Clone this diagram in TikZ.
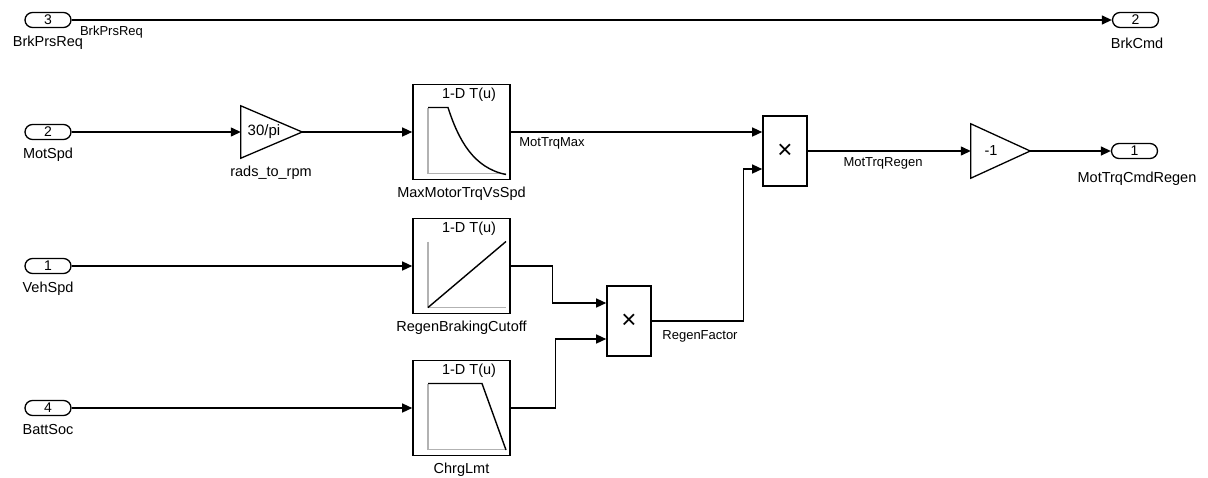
\documentclass[tikz,border=0pt]{standalone}
\usepackage{fontspec}
\setmainfont{Liberation Sans}
\usetikzlibrary{arrows.meta}
\begin{document}
\begin{tikzpicture}[x=1pt,y=-1pt,
 port/.style={draw,line width=1.3pt,rounded corners=7.5pt,minimum width=46pt,minimum height=15pt,inner sep=0pt,font=\fontsize{14}{14}\selectfont},
 blk/.style={draw,line width=1.6pt,inner sep=0pt},
 ghost/.style={inner sep=0pt},
 lbl/.style={font=\fontsize{14.5}{15}\selectfont,inner sep=0pt},
 slbl/.style={font=\fontsize{13}{14}\selectfont,inner sep=0pt},
 sig/.style={line width=1.3pt,-{Triangle[length=10pt,width=9pt]}},
 ax/.style={draw=black!30,line width=1.4pt},
 crv/.style={line width=1.4pt},
 mult/.style={blk,minimum width=44pt,minimum height=70pt,font=\fontsize{26}{26}\selectfont}]
\useasboundingbox (0,0) rectangle (1208,477);

% ports
\node[port] (in3) at (48,20) {3};
\node[port] (out2) at (1135.5,20) {2};
\node[port] (in2) at (48,132) {2};
\node[port] (in1) at (48,266) {1};
\node[port] (in4) at (48,408) {4};
\node[port] (out1) at (1134.5,151) {1};

\node[lbl] (lin3) at (48,43) {BrkPrsReq};
\node[lbl] (lout2) at (1137,43) {BrkCmd};
\node[lbl] (lin2) at (48,155) {MotSpd};
\node[lbl] (lin1) at (48,289) {VehSpd};
\node[lbl] (lin4) at (48,430) {BattSoc};
\node[lbl] (lout1) at (1137,179) {MotTrqCmdRegen};

% gains
\node[ghost,minimum width=61pt,minimum height=52pt] (g1) at (271.5,132) {};
\draw[line width=1.3pt] (g1.north west) -- (g1.east) -- (g1.south west) -- cycle;
\node[lbl,font=\fontsize{15}{15}\selectfont] (g1t) at (264,132) {30/pi};
\node[lbl] (lg1) at (271,173) {rads\_to\_rpm};

\node[ghost,minimum width=59pt,minimum height=54pt] (g2) at (1000.5,151) {};
\draw[line width=1.3pt] (g2.north west) -- (g2.east) -- (g2.south west) -- cycle;
\node[lbl] (g2t) at (991,151) {-1};

% lookup tables
\foreach \n/\y/\lab in {t1/132/MaxMotorTrqVsSpd,t2/266/RegenBrakingCutoff,t3/408/ChrgLmt}{
  \node[blk,minimum width=97pt,minimum height=95pt] (\n) at (461.5,\y) {};
  \node[lbl] (\n h) at ([xshift=7.5pt,yshift=-11pt]\n.north) {1-D T(u)};
  \node[lbl] (\n l) at ([yshift=-13pt]\n.south) {\lab};
  \begin{scope}[shift={(\n.center)}]
    \draw[ax] (-33.5,-24.5) -- (-33.5,41.5) -- (44.5,41.5);
  \end{scope}
}
\begin{scope}[shift={(t1.center)}]
  \draw[crv] (-33.5,-24.5) -- (-13.5,-24.5) .. controls (-3,8) and (12,36) .. (44.5,42.5);
\end{scope}
\begin{scope}[shift={(t2.center)}]
  \draw[crv] (-33.5,41.5) -- (44.5,-24.5);
\end{scope}
\begin{scope}[shift={(t3.center)}]
  \draw[crv] (-33.5,-24.5) -- (20.5,-24.5) -- (44.5,42);
\end{scope}

% products
\node[mult] (p1) at (785,151) {×};
\node[mult] (p2) at (629,321) {×};
\coordinate (p1in2) at ([yshift=-18pt]p1.west);
\coordinate (p2in1) at ([yshift=18pt]p2.west);
\coordinate (p2in2) at ([yshift=-18pt]p2.west);

% connectors
\draw[sig] (in3) -- (out2);
\draw[sig] (in2) -- (g1.west);
\draw[sig] (g1.east) -- (t1.west);
\draw[sig] (t1.east) -- (t1.east -| p1.west);
\draw[sig] (in1) -- (t2);
\draw[sig] (in4) -- (t3);
\draw[sig] (t2.east) -- ++(42,0) |- (p2in1);
\draw[sig] (t3.east) -- ++(45,0) |- (p2in2);
\draw[sig] (p2.east) -- ++(92,0) |- (p1in2);
\draw[sig] (p1.east) -- (g2.west);
\draw[sig] (g2.east) -- (out1.west);

% signal labels
\node[slbl] (s1) at (111.5,32) {BrkPrsReq};
\node[slbl] (s2) at (552,143) {MotTrqMax};
\node[slbl] (s3) at (883,163) {MotTrqRegen};
\node[slbl] (s4) at (700,336) {RegenFactor};
\end{tikzpicture}
\end{document}
